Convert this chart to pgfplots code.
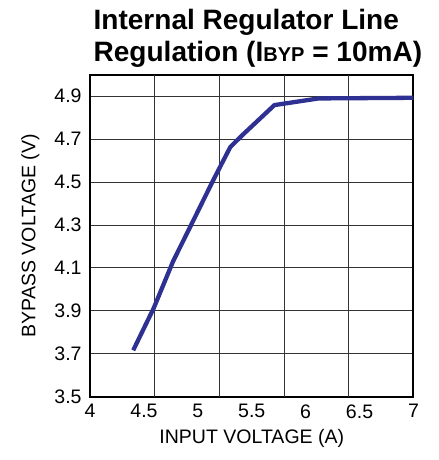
\documentclass[border=0pt]{standalone}
\usepackage{pgfplots}
\pgfplotsset{compat=1.18}
\usepackage{fontspec}
\setmainfont{Liberation Sans}
\definecolor{curve}{RGB}{46,49,146}
\begin{document}
\begin{tikzpicture}
\begin{axis}[
    width=323pt, height=322pt,
    scale only axis,
    xmin=4, xmax=7,
    ymin=3.5, ymax=5.0,
    xtick={4,4.5,...,7},
    ytick={3.5,3.7,...,4.9},
    xticklabels={4,4.5,5,5.5,6,6.5,7},
    yticklabels={3.5,3.7,3.9,4.1,4.3,4.5,4.7,4.9},
    major tick length=0pt,
    ymajorgrids=true,
    extra x ticks={4.6,5.2,5.8,6.4},
    extra x tick labels={},
    extra x tick style={grid=major, major tick length=0pt},
    grid style={black!80, line width=1pt},
    axis line style={black, line width=2pt},
    tick label style={font=\fontsize{19.5}{19.5}\selectfont},
    yticklabel style={xshift=-5pt},
    xticklabel style={yshift=-4pt},
    xlabel={INPUT VOLTAGE (A)},
    ylabel={BYPASS VOLTAGE (V)},
    label style={font=\fontsize{19.5}{19.5}\selectfont},
    ylabel style={yshift=8pt},
    xlabel style={yshift=-4pt},
    title={Internal Regulator Line\\Regulation (I{\fontsize{20}{20}\selectfont BYP} = 10mA)},
    title style={at={(0,1)}, anchor=south west, align=left, xshift=0pt, yshift=-2pt,
        font=\fontsize{28}{32}\selectfont\bfseries},
]
\addplot[curve, line width=4.3pt, line join=round] coordinates {
    (4.40,3.717) (4.59,3.913) (4.77,4.131) (4.94,4.303) (5.14,4.506)
    (5.30,4.662) (5.41,4.717) (5.71,4.858) (6.12,4.889) (7.0,4.892)
};
\end{axis}
% page margins as in the reference
\path (current axis.south west) ++(-90pt,-63pt) coordinate (bbsw);
\path (current axis.north east) ++(25pt,74.5pt) coordinate (bbne);
\useasboundingbox (bbsw) rectangle (bbne);
\end{tikzpicture}
\end{document}
